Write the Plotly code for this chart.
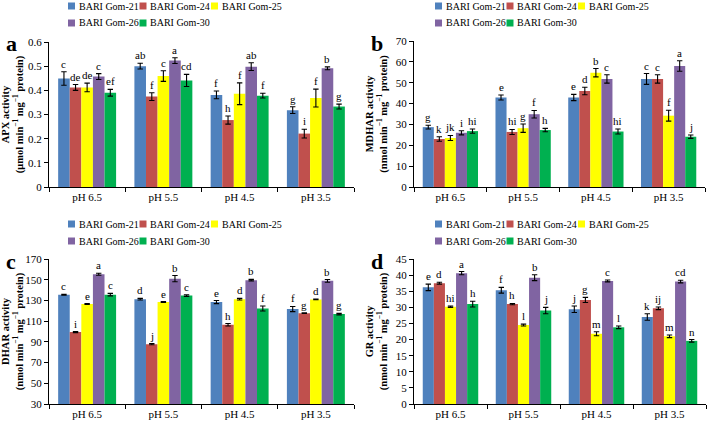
import plotly.graph_objects as go

# ---------------- data ----------------
groups = ["pH 6.5", "pH 5.5", "pH 4.5", "pH 3.5"]
cultivars = ["BARI Gom-21", "BARI Gom-24", "BARI Gom-25", "BARI Gom-26", "BARI Gom-30"]
colors = ["#4F81BD", "#C0504D", "#FFFF00", "#8064A2", "#00B050"]

# APX (µmol min-1 mg-1 protein); one row per cultivar, columns = groups
apx_mean = [[0.449, 0.500, 0.381, 0.318],
            [0.412, 0.374, 0.277, 0.221],
            [0.412, 0.459, 0.386, 0.368],
            [0.457, 0.523, 0.498, 0.491],
            [0.390, 0.441, 0.378, 0.333]]
apx_err = [[0.028, 0.012, 0.016, 0.014],
           [0.012, 0.016, 0.017, 0.018],
           [0.018, 0.022, 0.045, 0.037],
           [0.012, 0.012, 0.016, 0.006],
           [0.014, 0.025, 0.010, 0.010]]
apx_letters = [["c", "ab", "f", "g"],
               ["de", "f", "h", "i"],
               ["de", "c", "f", "f"],
               ["c", "a", "ab", "b"],
               ["ef", "cd", "f", "g"]]

# MDHAR (nmol min-1 mg-1 protein)
mdhar_mean = [[28.7, 42.9, 42.9, 51.8],
              [23.0, 26.4, 46.0, 51.8],
              [23.5, 28.2, 54.8, 34.2],
              [26.0, 34.9, 51.8, 58.0],
              [26.8, 27.3, 26.6, 24.1]]
mdhar_err = [[0.9, 1.2, 1.5, 2.6],
             [1.1, 1.2, 1.8, 2.0],
             [1.2, 2.0, 2.0, 2.6],
             [1.0, 1.8, 2.0, 2.5],
             [1.0, 0.8, 1.2, 0.8]]
mdhar_letters = [["g", "e", "e", "c"],
                 ["k", "hi", "d", "c"],
                 ["jk", "g", "b", "f"],
                 ["i", "f", "c", "a"],
                 ["hi", "h", "hi", "j"]]

# DHAR (nmol min-1 mg-1 protein)
dhar_mean = [[135.5, 131.2, 128.4, 121.7],
             [99.4, 87.8, 106.5, 117.7],
             [126.5, 128.4, 131.2, 131.0],
             [155.3, 151.0, 149.6, 148.9],
             [135.6, 134.7, 122.2, 116.8]]
dhar_err = [[0.5, 0.8, 1.5, 2.5],
            [0.5, 0.6, 1.2, 0.3],
            [0.4, 0.4, 0.8, 0.4],
            [1.0, 3.0, 0.7, 1.3],
            [1.2, 0.8, 2.4, 0.7]]
dhar_letters = [["c", "d", "e", "f"],
                ["i", "j", "h", "g"],
                ["e", "e", "d", "d"],
                ["a", "b", "b", "b"],
                ["c", "c", "f", "g"]]

# GR (nmol min-1 mg-1 protein)
gr_mean = [[36.2, 35.3, 29.4, 27.0],
           [37.5, 31.0, 32.3, 29.7],
           [30.2, 24.5, 21.8, 21.0],
           [40.6, 39.2, 38.2, 38.0],
           [31.0, 29.0, 23.8, 19.6]]
gr_err = [[1.0, 0.9, 1.0, 1.0],
          [0.3, 0.2, 0.8, 0.4],
          [0.2, 0.3, 0.6, 0.4],
          [0.5, 0.9, 0.3, 0.4],
          [0.9, 1.0, 0.4, 0.4]]
gr_letters = [["e", "f", "j", "k"],
              ["d", "h", "g", "ij"],
              ["hi", "l", "m", "m"],
              ["a", "b", "c", "cd"],
              ["h", "j", "l", "n"]]

unit_umol = "(μmol min<sup>−1</sup> mg<sup>−1</sup> protein)"
unit_nmol = "(nmol min<sup>−1</sup> mg<sup>−1</sup> protein)"

panels = [
    dict(key="a", ax="", mean=apx_mean, err=apx_err, let=apx_letters,
         rng=[0, 0.6], dtick=0.1, t0=0, title="APX activity", unit=unit_umol),
    dict(key="b", ax="2", mean=mdhar_mean, err=mdhar_err, let=mdhar_letters,
         rng=[0, 70], dtick=10, t0=0, title="MDHAR activity", unit=unit_nmol),
    dict(key="c", ax="3", mean=dhar_mean, err=dhar_err, let=dhar_letters,
         rng=[30, 170], dtick=20, t0=30, title="DHAR activity", unit=unit_nmol),
    dict(key="d", ax="4", mean=gr_mean, err=gr_err, let=gr_letters,
         rng=[0, 45], dtick=5, t0=0, title="GR activity", unit=unit_nmol),
]

# ---------------- layout geometry (pixels in a 709x423 canvas) ----------------
W, H = 709, 423
FONT = "Liberation Serif, Times New Roman, serif"
BARGAP = 0.24
xdom = {"a": (49, 354), "b": (414, 705), "c": (49, 354), "d": (414, 706)}
ydom = {"a": (42, 187), "b": (41, 187), "c": (259, 404), "d": (259, 404)}
legend_pos = {"a": (68, 6, 23), "b": (435, 6, 23), "c": (68, 224, 241), "d": (435, 224, 241)}
LEG_STRIDE = 71.5
label_pos = {"a": (11, 43), "b": (377, 43), "c": (11, 261), "d": (377, 261)}

fig = go.Figure()
annotations = []
shapes = []
layout = dict(
    width=W, height=H, margin=dict(l=0, r=0, t=0, b=0, autoexpand=False),
    paper_bgcolor="white", plot_bgcolor="white",
    font=dict(family=FONT, size=11, color="black"),
    barmode="group", bargap=BARGAP, bargroupgap=0,
    showlegend=False,
)

for pi, p in enumerate(panels):
    k, ax = p["key"], p["ax"]
    xref, yref = "x" + ax, "y" + ax
    x0, x1 = xdom[k]
    y0, y1 = ydom[k]
    bar_px = (x1 - x0) / len(groups) * (1 - BARGAP) / len(cultivars)
    for i, name in enumerate(cultivars):
        fig.add_trace(go.Bar(
            x=groups, y=p["mean"][i], name=name, marker_color=colors[i],
            marker_line_width=0,
            error_y=dict(type="data", array=p["err"][i], color="black", thickness=1.1, width=2.7),
            xaxis=xref, yaxis=yref, hoverinfo="skip", showlegend=False,
        ))
        # significance letters above each error bar
        for g, grp in enumerate(groups):
            annotations.append(dict(
                text=p["let"][i][g], x=grp, y=p["mean"][i][g] + p["err"][i][g],
                xref=xref, yref=yref, xanchor="center", yanchor="bottom",
                xshift=(i - (len(cultivars) - 1) / 2) * bar_px, yshift=0,
                showarrow=False, font=dict(size=11, family=FONT, color="black"),
            ))

    layout["xaxis" + ax] = dict(
        domain=[x0 / W, x1 / W], anchor=yref, type="category", automargin=False,
        showline=True, linecolor="black", linewidth=1,
        ticks="outside", tickson="boundaries", ticklen=4, tickcolor="black",
        showgrid=False, zeroline=False, tickfont=dict(size=11, family=FONT),
        fixedrange=True,
    )
    layout["yaxis" + ax] = dict(
        domain=[1 - y1 / H, 1 - y0 / H], anchor=xref, range=p["rng"], automargin=False,
        tick0=p["t0"], dtick=p["dtick"],
        showline=True, linecolor="black", linewidth=1,
        ticks="outside", ticklen=4, tickcolor="black",
        showgrid=False, zeroline=False, tickfont=dict(size=11, family=FONT),
        title=dict(text="<b>" + p["title"] + "</b><br><b>" + p["unit"] + "</b>",
                   font=dict(size=10.5, family=FONT), standoff=6),
        fixedrange=True,
    )

    # legend (two rows) for this panel
    lx, ly1, ly2 = legend_pos[k]
    for i, name in enumerate(cultivars):
        row_y = ly1 if i < 3 else ly2
        col = i if i < 3 else i - 3
        mx = lx + col * LEG_STRIDE
        shapes.append(dict(
            type="rect", xref="paper", yref="paper",
            x0=mx / W, x1=(mx + 7) / W, y0=1 - (row_y + 3.5) / H, y1=1 - (row_y - 3.5) / H,
            fillcolor=colors[i], line=dict(width=0),
        ))
        annotations.append(dict(
            text=name, x=(mx + 8.5) / W, y=1 - row_y / H, xref="paper", yref="paper",
            xanchor="left", yanchor="middle", showarrow=False,
            font=dict(size=10, family=FONT, color="black"),
        ))

    px, py = label_pos[k]
    annotations.append(dict(
        text="<b>" + k + "</b>", x=px / W, y=1 - py / H, xref="paper", yref="paper",
        xanchor="center", yanchor="middle", showarrow=False,
        font=dict(size=22, family=FONT, color="black"),
    ))

layout["annotations"] = annotations
layout["shapes"] = shapes
fig.update_layout(**layout)
fig.write_html("out.html", config={"displayModeBar": False, "staticPlot": True},
               post_script="document.body.style.margin='0';document.body.style.overflow='hidden';")
